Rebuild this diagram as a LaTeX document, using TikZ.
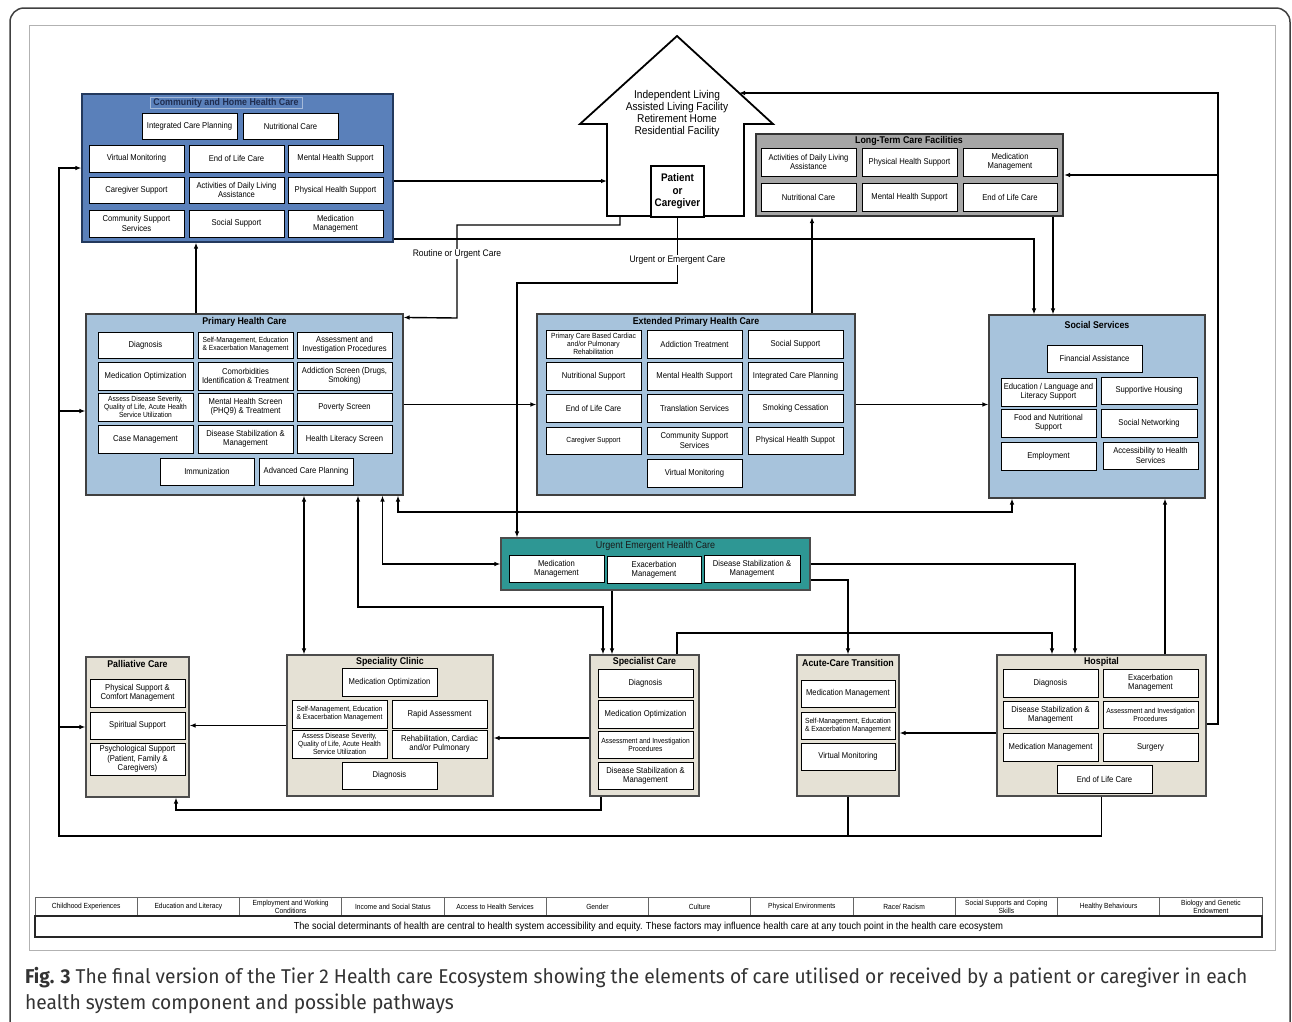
\documentclass[tikz,border=0pt]{standalone}
\usepackage{fontspec}
\setmainfont[FakeStretch=0.9]{Liberation Sans}
\newfontfamily\capfont[FakeStretch=0.96]{Fira Sans}
\usetikzlibrary{arrows.meta}
\definecolor{cblue}{HTML}{5A80BA}
\definecolor{cbluedk}{HTML}{23395D}
\definecolor{lblue}{HTML}{A7C3DC}
\definecolor{tealc}{HTML}{2E9794}
\definecolor{beigec}{HTML}{E5E1D5}
\definecolor{ltcg}{HTML}{A6A6A6}
\definecolor{navytxt}{HTML}{1F2D50}
\tikzset{
  ib/.style={draw=black, line width=0.9pt, fill=white, inner sep=0.5pt, align=center, font=\fontsize{8.5}{9.4}\selectfont},
  ibs/.style={ib, font=\fontsize{7.4}{7.9}\selectfont},
  contB/.style={draw=cbluedk, line width=1.3pt, fill=cblue},
  contL/.style={draw=black!75, line width=1.1pt, fill=lblue},
  contG/.style={draw=black!80, line width=2.2pt, fill=ltcg},
  contT/.style={draw=black!70, line width=1.2pt, fill=tealc},
  contY/.style={draw=black!70, line width=1.2pt, fill=beigec},
  ttl/.style={font=\fontsize{9.8}{11}\selectfont\bfseries, inner sep=0.5pt},
  pbox/.style={draw=black, line width=1.3pt, fill=white, inner sep=0.5pt, align=center, font=\fontsize{11}{12.5}\selectfont\bfseries},
  housetxt/.style={align=center, inner sep=0pt, font=\fontsize{11.3}{12}\selectfont},
  arr/.style={line width=1.4pt, -{Latex[length=6pt,width=4.6pt]}},
  arrb/.style={line width=1.4pt, {Latex[length=6pt,width=4.6pt]}-{Latex[length=6pt,width=4.6pt]}},
  ln/.style={line width=1.4pt},
  lbl/.style={fill=white, inner sep=1pt, font=\fontsize{9.5}{10}\selectfont},
  sdc/.style={draw=black!60, line width=0.6pt, fill=white, inner sep=0pt, align=center, font=\fontsize{7.4}{7.8}\selectfont},
  sdr/.style={draw=black!85, line width=1.6pt, fill=white, inner sep=0pt, font=\fontsize{10.2}{11}\selectfont},
}
\newcommand\bx[7][ib]{\node[#1,minimum width={#5-#3},minimum height={#6-#4}] (#2) at ({(#3+#5)/2},{(#4+#6)/2}) {#7};}
\begin{document}
\begin{tikzpicture}[x=1pt,y=-1pt]
\useasboundingbox (0,0) rectangle (1292,1021);
% paper frame
\draw[black!75, line width=1.5pt, rounded corners=14] (10,1040) -- (10,8) -- (1290,8) -- (1290,1040);
\draw[gray!60, line width=0.8pt] (29,25) rectangle (1275,950);

% ===== containers =====
\bx[contB]{comm}{82}{94}{393}{242}{}
\bx[contG]{ltc}{756}{134}{1063}{216}{}
\bx[contL]{prim}{86}{314}{403}{495}{}
\bx[contL]{ext}{537}{314}{855}{495}{}
\bx[contL]{soc}{989}{315}{1205}{498}{}
\bx[contT]{urg}{501}{538}{810}{590}{}
\bx[contY]{pal}{86}{657}{189}{797}{}
\bx[contY]{scl}{287}{655}{493}{796}{}
\bx[contY]{spc}{590}{655}{699}{796}{}
\bx[contY]{act}{797}{655}{899}{796}{}
\bx[contY]{hos}{997}{655}{1206}{796}{}

% ===== house =====
\draw[line width=1.8pt, fill=white] (677,36) -- (773,124) -- (744,124) -- (744,216) -- (607,216) -- (607,124) -- (580,124) -- cycle;
\node[housetxt] (houseT) at (677,114) {Independent Living\\Assisted Living Facility\\Retirement Home\\Residential Facility};
\bx[pbox]{pat}{651}{166}{704}{217}{Patient\\or\\Caregiver}
\coordinate (houseL) at (607,181);
\coordinate (houseRoof) at (739,93);
\coordinate (houseB) at (620,216);

% ===== titles =====
\node[draw=cblue!55!white, line width=0.6pt, minimum width=152, minimum height=11, inner sep=0pt, text=navytxt, font=\fontsize{9.8}{11}\selectfont\bfseries] (commT) at (226,102.5) {Community and Home Health Care};
\node[ttl] (ltcT) at (909,141) {Long-Term Care Facilities};
\node[ttl] (primT) at (244.5,321.5) {Primary Health Care};
\node[ttl] (extT) at (696,321.5) {Extended Primary Health Care};
\node[ttl] (socT) at (1097,324.5) {Social Services};
\node[inner sep=0.5pt, text=black!90, font=\fontsize{10}{11}\selectfont] (urgT) at (655.5,546) {Urgent Emergent Health Care};
\node[ttl] (palT) at (137.5,663.5) {Palliative Care};
\node[ttl] (sclT) at (390,661.5) {Speciality Clinic};
\node[ttl] (spcT) at (644.5,662) {Specialist Care};
\node[ttl] (actT) at (848,662.5) {Acute-Care Transition};
\node[ttl] (hosT) at (1101.5,661.5) {Hospital};

% ===== Community and Home Health Care =====
\bx{c1}{142}{113}{237}{139}{Integrated Care Planning}
\bx{c2}{243}{113}{338}{139}{Nutritional Care}
\bx{c3}{89}{145}{184}{172}{Virtual Monitoring}
\bx{c4}{189}{145}{284}{172}{End of Life Care}
\bx{c5}{288}{145}{383}{172}{Mental Health Support}
\bx{c6}{89}{177}{184}{203}{Caregiver Support}
\bx{c7}{189}{177}{284}{203}{Activities of Daily Living\\Assistance}
\bx{c8}{288}{177}{383}{203}{Physical Health Support}
\bx{c9}{89}{210}{184}{237}{Community Support\\Services}
\bx{c10}{189}{210}{284}{237}{Social Support}
\bx{c11}{288}{210}{383}{237}{Medication\\Management}

% ===== Long-term care =====
\bx{l1}{761}{148}{856}{176}{Activities of Daily Living\\Assistance}
\bx{l2}{862}{148}{957}{176}{Physical Health Support}
\bx{l3}{963}{148}{1057}{176}{Medication\\Management}
\bx{l4}{761}{183}{856}{211}{Nutritional Care}
\bx{l5}{862}{183}{957}{211}{Mental Health Support}
\bx{l6}{963}{183}{1057}{211}{End of Life Care}

% ===== Primary Health Care =====
\bx{p1}{98}{332}{193}{358}{Diagnosis}
\bx[ibs]{p2}{198}{332}{293}{358}{Self-Management, Education\\\& Exacerbation Management}
\bx{p3}{297}{332}{392}{358}{Assessment and\\Investigation Procedures}
\bx{p4}{98}{362}{193}{390}{Medication Optimization}
\bx{p5}{198}{362}{293}{390}{Comorbidities\\Identification \& Treatment}
\bx{p6}{297}{362}{392}{390}{Addiction Screen (Drugs,\\Smoking)}
\bx[ibs]{p7}{98}{393}{193}{421}{Assess Disease Severity,\\Quality of Life, Acute Health\\Service Utilization}
\bx{p8}{198}{393}{293}{421}{Mental Health Screen\\(PHQ9) \& Treatment}
\bx{p9}{297}{393}{392}{421}{Poverty Screen}
\bx{p10}{98}{425}{193}{453}{Case Management}
\bx{p11}{198}{425}{293}{453}{Disease Stabilization \&\\Management}
\bx{p12}{297}{425}{392}{453}{Health Literacy Screen}
\bx{p13}{160}{458}{254}{485}{Immunization}
\bx{p14}{259}{458}{353}{485}{Advanced Care Planning}

% ===== Extended Primary Health Care =====
\bx[ibs]{e1}{546}{330}{641}{358}{Primary Care Based Cardiac\\and/or Pulmonary\\Rehabilitation}
\bx{e2}{647}{330}{742}{358}{Addiction Treatment}
\bx{e3}{748}{330}{843}{358}{Social Support}
\bx{e4}{546}{362}{641}{390}{Nutritional Support}
\bx{e5}{647}{362}{742}{390}{Mental Health Support}
\bx{e6}{748}{362}{843}{390}{Integrated Care Planning}
\bx{e7}{546}{394}{641}{422}{End of Life Care}
\bx{e8}{647}{394}{742}{422}{Translation Services}
\bx{e9}{748}{394}{843}{422}{Smoking Cessation}
\bx[ibs]{e10}{546}{427}{641}{454}{Caregiver Support}
\bx{e11}{647}{427}{742}{454}{Community Support\\Services}
\bx{e12}{748}{427}{843}{454}{Physical Health Suppot}
\bx{e13}{647}{459}{742}{487}{Virtual Monitoring}

% ===== Social Services =====
\bx{s1}{1047}{345}{1142}{372}{Financial Assistance}
\bx{s2}{1001}{378}{1096}{406}{Education / Language and\\Literacy Support}
\bx{s3}{1101}{377}{1197}{404}{Supportive Housing}
\bx{s4}{1001}{409}{1096}{437}{Food and Nutritional\\Support}
\bx{s5}{1101}{409}{1197}{437}{Social Networking}
\bx{s6}{1001}{442}{1096}{470}{Employment}
\bx{s7}{1103}{442}{1198}{469}{Accessibility to Health\\Services}

% ===== Urgent Emergent =====
\bx{u1}{509}{555}{604}{582}{Medication\\Management}
\bx{u2}{607}{556}{701}{583}{Exacerbation\\Management}
\bx{u3}{704}{555}{800}{582}{Disease Stabilization \&\\Management}

% ===== Palliative =====
\bx{pa1}{90}{679}{185}{707}{Physical Support \&\\Comfort Management}
\bx{pa2}{90}{712}{185}{739}{Spiritual Support}
\bx{pa3}{90}{743}{185}{775}{Psychological Support\\(Patient, Family \&\\Caregivers)}

% ===== Speciality Clinic =====
\bx{k1}{342}{668}{437}{696}{Medication Optimization}
\bx[ibs]{k2}{292}{700}{387}{728}{Self-Management, Education\\\& Exacerbation Management}
\bx{k3}{392}{700}{487}{728}{Rapid Assessment}
\bx[ibs]{k4}{292}{730}{387}{758}{Assess Disease Severity,\\Quality of Life, Acute Health\\Service Utilization}
\bx{k5}{392}{730}{487}{758}{Rehabilitation, Cardiac\\and/or Pulmonary}
\bx{k6}{342}{762}{437}{789}{Diagnosis}

% ===== Specialist Care =====
\bx{sp1}{598}{669}{693}{697}{Diagnosis}
\bx{sp2}{598}{700}{693}{728}{Medication Optimization}
\bx[ibs]{sp3}{598}{731}{693}{758}{Assessment and Investigation\\Procedures}
\bx{sp4}{598}{762}{693}{789}{Disease Stabilization \&\\Management}

% ===== Acute-Care Transition =====
\bx{a1}{801}{680}{895}{707}{Medication Management}
\bx[ibs]{a2}{801}{712}{895}{739}{Self-Management, Education\\\& Exacerbation Management}
\bx{a3}{801}{743}{895}{770}{Virtual Monitoring}

% ===== Hospital =====
\bx{h1}{1003}{669}{1098}{697}{Diagnosis}
\bx{h2}{1103}{669}{1198}{697}{Exacerbation\\Management}
\bx{h3}{1003}{701}{1098}{728}{Disease Stabilization \&\\Management}
\bx[ibs]{h4}{1103}{701}{1198}{728}{Assessment and Investigation\\Procedures}
\bx{h5}{1003}{733}{1098}{761}{Medication Management}
\bx{h6}{1103}{733}{1198}{761}{Surgery}
\bx{h7}{1057}{765}{1152}{793}{End of Life Care}

% ===== connectors =====
\coordinate (Lp) at (59,411);
\coordinate (Lpal) at (59,727);
\coordinate (Rj) at (1218,175);
\draw[arr] (hos.south) |- (59,836) |- (comm.west);
\draw[ln] (act.south) -- ++(0,40);
\draw[arr] (Lp) -- ([yshift=-6.5]prim.west);
\draw[arr] (Lpal) -- (pal.west);
\draw[arr] ([xshift=-43.5]spc.south) |- (176,810) -- ([xshift=38.5]pal.south);
\draw[arr] (scl.west) -- (scl.west -| pal.east);
\draw[arr] ([yshift=-12.5]spc.west) -- ([yshift=-12.5]scl.east);
\draw[arr] ([yshift=-7.5]hos.west) -- ([yshift=-7.5]act.east);
\draw[arr] ([yshift=1.5]hos.east) -| (1218,93) -- (houseRoof);
\draw[arr] (Rj) -- (ltc.east);
\draw[arr] ([xshift=63.5]hos.north) -- ([xshift=68]soc.south);
\draw[arr] (urg.east) -| ([xshift=-26.5]hos.north);
\draw[arr] ([yshift=-16]urg.east) -| (act.north);
\draw[arr] ([xshift=32.5]spc.north) |- (1052,633) -- ([xshift=-49.5]hos.north);
\draw[arr] ([xshift=-43.5]urg.south) -- ([xshift=-32.5]spc.north);
\draw[arrb] ([xshift=113.5]prim.south) |- (603,607) -- ([xshift=-41.5]spc.north);
\draw[arrb] ([xshift=138]prim.south) |- (urg.west);
\draw[arrb] ([xshift=153.5]prim.south) |- (1012,512) -- ([xshift=-85]soc.south);
\draw[arrb] ([xshift=59.5]prim.south) -- ([xshift=-86]scl.north);
\draw[arr] ([xshift=-48.5]prim.north) -- ([xshift=-41.5]comm.south);
\draw[arr] ([yshift=-13]comm.east) -- (houseL);
\draw[arr] ([yshift=-71]comm.east) -| ([xshift=-63]soc.north);
\draw[arr] ([xshift=143.5]ltc.south) -- ([xshift=-44]soc.north);
\draw[arr] ([xshift=116]ext.north) -- ([xshift=-97.5]ltc.south);
\draw[arr] (houseB) |- (457,225) -- (457,318) -- ([yshift=-4]prim.north east);
\draw[arr] (pat.south) |- (517,283) -- ([xshift=-138.5]urg.north);
\draw[arr] (prim.east) -- (ext.west);
\draw[arr] (ext.east) -- (ext.east -| soc.west);
\node[lbl] (lab1) at (457,254) {Routine or Urgent Care};
\node[lbl] (lab2) at (677.5,260) {Urgent or Emergent Care};

% ===== social determinants bar =====
\bx[sdc]{d1}{35}{897}{137.25}{916}{Childhood Experiences}
\bx[sdc]{d2}{137.25}{897}{239.5}{916}{Education and Literacy}
\bx[sdc]{d3}{239.5}{897}{341.75}{916}{Employment and Working\\Conditions}
\bx[sdc]{d4}{341.75}{897}{444}{916}{Income and Social Status}
\bx[sdc]{d5}{444}{897}{546.25}{916}{Access to Health Services}
\bx[sdc]{d6}{546.25}{897}{648.5}{916}{Gender}
\bx[sdc]{d7}{648.5}{897}{750.75}{916}{Culture}
\bx[sdc]{d8}{750.75}{897}{853}{916}{Physical Environments}
\bx[sdc]{d9}{853}{897}{955.25}{916}{Race/ Racism}
\bx[sdc]{d10}{955.25}{897}{1057.5}{916}{Social Supports and Coping\\Skills}
\bx[sdc]{d11}{1057.5}{897}{1159.75}{916}{Healthy Behaviours}
\bx[sdc]{d12}{1159.75}{897}{1262}{916}{Biology and Genetic\\Endowment}
\bx[sdr]{drow}{35}{916}{1262}{937}{The social determinants of health are central to health system accessibility and equity. These factors may influence health care at any touch point in the health care ecosystem}

% ===== caption =====
\node[anchor=base west, inner sep=0pt, text=black!80, font=\capfont\fontsize{20}{24}\selectfont] (cap1) at (25,983) {\textbf{Fig. 3} The final version of the Tier 2 Health care Ecosystem showing the elements of care utilised or received by a patient or caregiver in each};
\node[anchor=base west, inner sep=0pt, text=black!80, font=\capfont\fontsize{20}{24}\selectfont] (cap2) at (25,1009) {health system component and possible pathways};
\end{tikzpicture}
\end{document}
